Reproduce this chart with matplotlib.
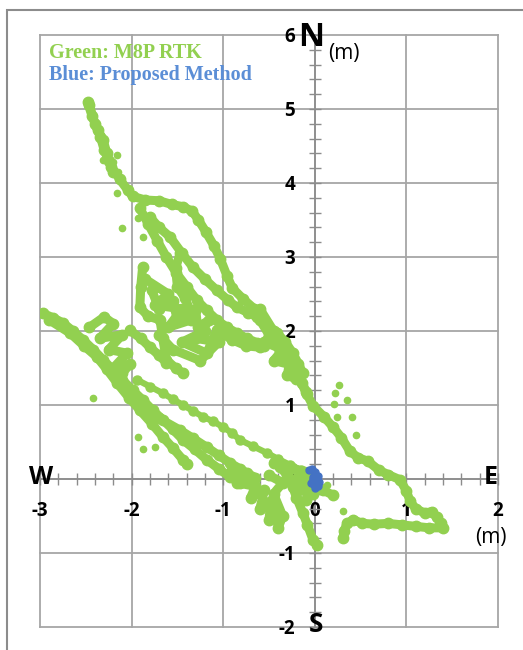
import numpy as np
import matplotlib.pyplot as plt
from matplotlib.ticker import MultipleLocator
from matplotlib.patches import Rectangle

plt.rcParams["axes.unicode_minus"] = False

# green tracks (M8P RTK), metres east / north
north_loop = [(-2.48, 5.09), (-2.43, 4.9), (-2.37, 4.72), (-2.31, 4.58), (-2.27, 4.4), (-2.22, 4.22),
              (-2.13, 4.05), (-2.04, 3.9), (-1.99, 3.82), (-1.85, 3.77), (-1.7, 3.76), (-1.56, 3.71),
              (-1.44, 3.68), (-1.34, 3.62), (-1.27, 3.5), (-1.19, 3.34), (-1.1, 3.15), (-1.03, 2.97),
              (-0.96, 2.75), (-0.9, 2.58), (-0.78, 2.43), (-0.66, 2.3), (-0.56, 2.12), (-0.48, 1.92),
              (-0.38, 1.72), (-0.28, 1.56), (-0.18, 1.38), (-0.1, 1.18), (-0.02, 0.99), (0.1, 0.84),
              (0.2, 0.7), (0.29, 0.56), (0.38, 0.38), (0.47, 0.29), (0.58, 0.24), (0.7, 0.12),
              (0.8, 0.06), (0.93, -0.01), (1.0, -0.16), (1.04, -0.3), (1.1, -0.4), (1.2, -0.46),
              (1.28, -0.44), (1.33, -0.52), (1.38, -0.6), (1.4, -0.66), (1.25, -0.66), (1.1, -0.64),
              (0.95, -0.62), (0.8, -0.6), (0.65, -0.61), (0.52, -0.6), (0.42, -0.55), (0.35, -0.6),
              (0.32, -0.7), (0.31, -0.8)]
north_top = [(-2.46, 5.05), (-2.4, 4.8), (-2.34, 4.62), (-2.3, 4.45), (-2.25, 4.3), (-2.2, 4.15)]
north_loop_2 = [(-0.6, 2.15), (-0.5, 1.95), (-0.4, 1.8), (-0.32, 1.62), (-0.22, 1.45), (-0.14, 1.3),
                (-0.08, 1.15)]
track_2a = [(-1.8, 3.54), (-1.7, 3.4), (-1.58, 3.27), (-1.45, 3.05), (-1.33, 2.86), (-1.2, 2.7),
            (-1.07, 2.55), (-0.95, 2.42), (-0.85, 2.32), (-0.73, 2.25), (-0.63, 2.19), (-0.52, 2.08),
            (-0.41, 1.97), (-0.32, 1.85), (-0.24, 1.7), (-0.18, 1.56), (-0.13, 1.43)]
track_2b = [(-1.91, 3.66), (-1.82, 3.45), (-1.72, 3.22), (-1.62, 3.0), (-1.51, 2.78), (-1.4, 2.6),
            (-1.29, 2.42), (-1.18, 2.28), (-1.07, 2.15), (-0.96, 2.05), (-0.85, 1.97), (-0.74, 1.9),
            (-0.63, 1.84), (-0.55, 1.8)]
track_2c = [(-1.88, 2.86), (-1.9, 2.6), (-1.91, 2.32), (-1.82, 2.2), (-1.69, 2.15), (-1.66, 1.9),
            (-1.62, 1.61), (-1.52, 1.5), (-1.44, 1.43)]
blob_2d = [(-1.85, 2.7), (-1.6, 2.5), (-1.75, 2.35), (-1.45, 2.3), (-1.6, 2.05), (-1.35, 2.15),
           (-1.4, 2.24), (-1.2, 2.0), (-1.45, 1.85), (-1.18, 1.7), (-1.07, 2.01), (-0.9, 1.88),
           (-0.75, 1.8), (-0.6, 1.78)]
blob_2g = [(-1.78, 2.55), (-1.7, 2.3), (-1.55, 2.4), (-1.5, 2.15), (-1.3, 2.3), (-1.28, 2.05),
           (-1.15, 2.15), (-1.3, 1.9), (-1.05, 1.85), (-1.25, 1.6), (-1.55, 1.75), (-1.7, 1.95)]
track_2e = [(-1.47, 3.05), (-1.52, 2.85), (-1.5, 2.6), (-1.42, 2.45), (-1.35, 2.25)]
blob_2f = [(-0.6, 2.3), (-0.45, 2.0), (-0.55, 1.85), (-0.35, 1.75), (-0.45, 1.6), (-0.28, 1.55),
           (-0.3, 1.4), (-0.2, 1.35)]
track_3a = [(-2.97, 2.24), (-2.86, 2.18), (-2.75, 2.11), (-2.64, 2.0), (-2.53, 1.88), (-2.42, 1.75),
            (-2.31, 1.61), (-2.2, 1.47), (-2.1, 1.34), (-1.99, 1.2), (-1.88, 1.07), (-1.77, 0.93),
            (-1.66, 0.8), (-1.55, 0.67), (-1.44, 0.53), (-1.31, 0.4), (-1.18, 0.26), (-1.05, 0.14),
            (-0.93, 0.03), (-0.82, -0.05)]
track_3b = [(-2.9, 2.15), (-2.67, 1.97), (-2.52, 1.8), (-2.38, 1.65), (-2.27, 1.48), (-2.16, 1.3),
            (-2.03, 1.1), (-1.91, 0.93), (-1.78, 0.75), (-1.66, 0.57), (-1.55, 0.42), (-1.44, 0.26),
            (-1.4, 0.2)]
cluster_3c = [(-2.46, 2.05), (-2.3, 2.19), (-2.2, 2.1), (-2.35, 1.9), (-2.1, 1.95), (-2.25, 1.75),
              (-2.05, 1.7), (-2.2, 1.5), (-2.02, 1.55), (-2.1, 1.43)]
track_3d = [(-2.02, 2.01), (-1.9, 1.9), (-1.8, 1.78), (-1.7, 1.67), (-1.62, 1.57)]
trail_3e = [(-1.94, 1.34), (-1.8, 1.25), (-1.66, 1.16), (-1.55, 1.08), (-1.44, 1.0), (-1.33, 0.92),
            (-1.22, 0.84), (-1.11, 0.78), (-1.0, 0.7), (-0.9, 0.62), (-0.82, 0.53), (-0.67, 0.44),
            (-0.52, 0.35), (-0.4, 0.27), (-0.27, 0.19), (-0.15, 0.12), (-0.05, 0.05)]
track_3f = [(-1.9, 0.95), (-1.7, 0.82), (-1.47, 0.66), (-1.33, 0.55), (-1.18, 0.43), (-1.05, 0.32),
            (-0.93, 0.22), (-0.82, 0.14), (-0.74, 0.08), (-0.65, 0.02)]
blob_3g = [(-0.9, 0.12), (-0.75, 0.0), (-0.85, -0.05), (-0.65, -0.1), (-0.7, -0.25), (-0.55, -0.15),
           (-0.6, -0.4), (-0.48, -0.3), (-0.5, -0.55), (-0.42, -0.45), (-0.4, -0.66), (-0.35, -0.5),
           (-0.45, -0.2), (-0.35, -0.05), (-0.5, 0.05)]
track_3h = [(-0.45, 0.22), (-0.38, 0.16), (-0.3, 0.05), (-0.24, -0.11), (-0.2, -0.25), (-0.13, -0.46),
            (-0.08, -0.62), (-0.02, -0.82), (0.02, -0.89)]
blob_3i = [(-0.25, 0.15), (-0.12, 0.1), (-0.2, 0.0), (-0.05, -0.05), (-0.18, -0.15), (-0.02, -0.2),
           (-0.1, -0.28), (0.05, -0.12), (0.09, -0.15), (0.2, -0.22)]
stray = [(-2.16, 4.38), (-2.2, 4.28), (-2.15, 4.15), (-2.16, 3.86), (-2.11, 3.39), (-1.93, 3.53),
         (-1.88, 3.27), (-2.31, 4.31), (0.26, 1.27), (0.22, 1.16), (0.35, 1.07), (0.21, 1.01),
         (0.24, 0.84), (0.41, 0.84), (0.45, 0.6), (0.13, -0.08), (0.31, -0.43), (-2.42, 1.09),
         (-1.93, 0.57), (-1.88, 0.41), (-1.75, 0.43)]

# blue (proposed method)
blue_x = [-0.06, -0.03, 0.0, 0.03, 0.05, 0.04, 0.0, -0.04, -0.02, 0.02]
blue_y = [0.12, 0.14, 0.1, 0.04, -0.04, -0.1, -0.12, -0.05, 0.03, -0.02]

x_ticks = [-3, -2, -1, 0, 1, 2]
y_ticks = [-2, -1, 0, 1, 2, 3, 4, 5, 6]

green = "#92D050"
blue = "#4472C4"
grid_c = "#a6a6a6"
W, H = 523, 650

fig = plt.figure(figsize=(W / 100, H / 100), dpi=100)
fig.patches.append(Rectangle((7 / W, -0.05), 1.0, 1 - 10 / H + 0.05, transform=fig.transFigure,
                             fill=False, ec="#8c8c8c", lw=1.5))
ax = fig.add_axes([40 / W, 23 / H, 458 / W, 592 / H])
ax.set_xlim(-3, 2)
ax.set_ylim(-2, 6)

for gx in x_ticks:
    ax.axvline(gx, color=grid_c, lw=1.3, zorder=0, clip_on=False)
for gy in y_ticks:
    ax.axhline(gy, color=grid_c, lw=1.3, zorder=0, clip_on=False)

tracks = [north_loop, north_top, north_loop_2, track_2a, track_2b, track_2c, blob_2d, blob_2g,
          track_2e, blob_2f, track_3a, track_3b, cluster_3c, track_3d, track_3f, blob_3g,
          track_3h, blob_3i]
for tr in tracks:
    t = np.array(tr)
    ax.plot(t[:, 0], t[:, 1], color=green, lw=6.5, marker="o", ms=7.5,
            solid_capstyle="round", solid_joinstyle="round", zorder=3)
t = np.array(trail_3e)
ax.plot(t[:, 0], t[:, 1], color=green, lw=4.5, marker="o", ms=6.5,
        solid_capstyle="round", zorder=3)
s = np.array(stray)
ax.plot(s[:, 0], s[:, 1], "o", color=green, ms=4.5, zorder=3)
ax.plot(blue_x, blue_y, color=blue, lw=4, marker="o", ms=5, zorder=4)

for side in ["top", "right"]:
    ax.spines[side].set_visible(False)
ax.spines["left"].set_position(("data", 0))
ax.spines["bottom"].set_position(("data", 0))
for side in ["left", "bottom"]:
    ax.spines[side].set_color("#8c8c8c")
    ax.spines[side].set_linewidth(1.2)
    ax.spines[side].set_zorder(1)

lab_kw = dict(fontsize=13.5, fontweight="bold", family="Open Sans")
ax.set_xticks(x_ticks, labels=[str(v) for v in x_ticks], **lab_kw)
ax.set_yticks(y_ticks, labels=[str(v) for v in y_ticks], **lab_kw)
ax.xaxis.set_minor_locator(MultipleLocator(0.2))
ax.yaxis.set_minor_locator(MultipleLocator(0.2))
ax.tick_params(which="both", direction="inout", length=8, color="#8c8c8c", width=1)
ax.tick_params(axis="x", pad=12)
ax.tick_params(axis="y", pad=10)

def ftext(px, py, s, **kw):
    fig.text(px / W, 1 - py / H, s, **kw)

ftext(311, 37, "N", fontsize=23, fontweight="bold", family="Open Sans", ha="center", va="center")
ftext(344, 54, "(m)", fontsize=15, family="Open Sans", ha="center", va="center")
ftext(41, 477, "W", fontsize=18, fontweight="bold", family="Open Sans", ha="center", va="center")
ftext(491, 478, "E", fontsize=18, fontweight="bold", family="Open Sans", ha="center", va="center")
ftext(316, 624, "S", fontsize=19, fontweight="bold", family="Open Sans", ha="center", va="center")
ftext(491, 537, "(m)", fontsize=15, family="Open Sans", ha="center", va="center")
ftext(49, 53, "Green: M8P RTK", fontsize=14.5, fontweight="bold", family="Liberation Serif",
      color=green, ha="left", va="center")
ftext(49, 75, "Blue: Proposed Method", fontsize=14.5, fontweight="bold", family="Liberation Serif",
      color="#5B8ED6", ha="left", va="center")

fig.savefig("out.png", dpi=100)
